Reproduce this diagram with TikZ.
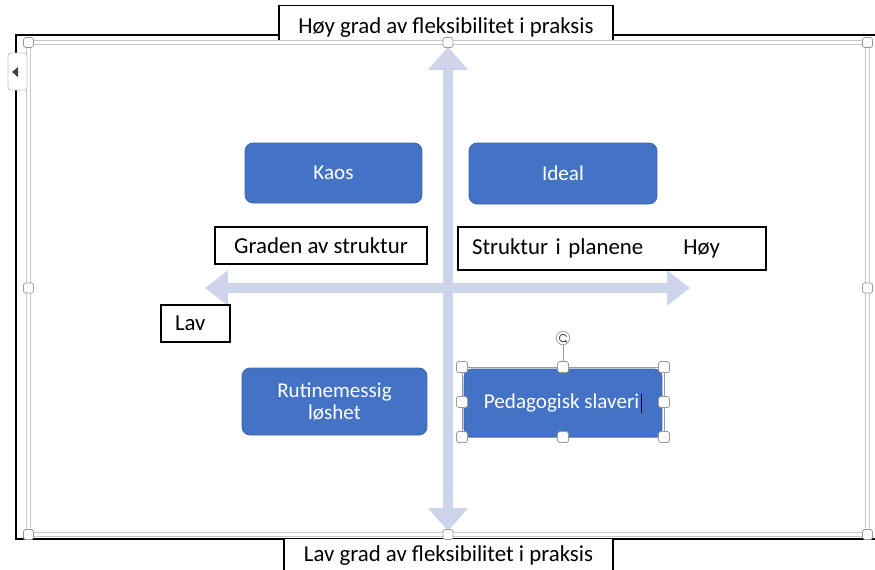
\documentclass[tikz,border=0pt]{standalone}
\usepackage{fontspec}
\setmainfont{Carlito}
\usetikzlibrary{arrows.meta}
\definecolor{my_blue}{HTML}{4472C4}
\definecolor{my_axis}{HTML}{CED4EA}
\definecolor{my_gray}{HTML}{9A9A9A}
\definecolor{my_lightgray}{HTML}{C8C8C8}

\begin{document}
\begin{tikzpicture}[
    x=0.02cm, y=-0.02cm,
    quadrant/.style={fill=my_blue, draw=my_blue!85!black, line width=0.4pt,
        rounded corners=4.5pt, text=white, align=center, inner sep=0pt,
        font=\fontsize{12}{13}\selectfont},
    labelbox/.style={draw=black, fill=white, line width=0.7pt, inner sep=0pt,
        font=\fontsize{13}{15.6}\selectfont},
    axis/.style={my_axis, line width=0.19cm},
    handle/.style={draw=my_gray, fill=white, line width=0.4pt, inner sep=0pt,
        minimum size=0.2cm, rounded corners=1pt}
]
\useasboundingbox (0,0) rectangle (875,569);
\clip (0,0) rectangle (875,569);

% ---- ytre ramme og overskrifter ----
\draw[black, line width=0.8pt] (875,35) -- (16,35) -- (16,539) -- (875,539);
\node[labelbox, minimum width=6.68cm, minimum height=0.7cm] (hoy) at (446,23)
    {\raisebox{-0.2cm}[0pt][0pt]{Høy grad av fleksibilitet i praksis}};
\node[labelbox, minimum width=6.58cm, minimum height=0.9cm, anchor=north] (lav) at (448.5,538)
    {\raisebox{0cm}[0pt][0pt]{Lav grad av fleksibilitet i praksis}};
\draw[my_lightgray, line width=0.6pt, double=white, double distance=0.06cm]
    (28.5,42.5) rectangle (867.5,534.5);

% ---- akser ----
\coordinate (ytop) at (448,47);
\coordinate (ybot) at (448,531);
\coordinate (xwest) at (205,288);
\coordinate (xeast) at (690,288);
\draw[axis, {Triangle[length=0.46cm, width=0.78cm]}-{Triangle[length=0.46cm, width=0.78cm]}]
    (ybot) -- (ytop);
\draw[axis, {Triangle[length=0.46cm, width=0.68cm]}-{Triangle[length=0.46cm, width=0.68cm]}]
    (xwest) -- (xeast);

% ---- kvadranter ----
\node[quadrant, minimum width=3.54cm, minimum height=1.2cm] (kaos) at (333.5,173) {Kaos};
\node[quadrant, minimum width=3.76cm, minimum height=1.22cm] (ideal) at (563,173.5) {Ideal};
\node[quadrant, minimum width=3.7cm, minimum height=1.34cm] (rutine) at (334.5,401.5)
    {Rutinemessig\\løshet};
\node[quadrant, minimum width=3.96cm, minimum height=1.36cm] (slaveri) at (563,403)
    {Pedagogisk slaveri\hspace{1pt}{\color{black}\rule[-0.08cm]{0.6pt}{0.38cm}}};

% ---- aksetekster ----
\node[labelbox, minimum width=4.24cm, minimum height=0.74cm] (graden) at (321,245.5)
    {Graden av struktur};
\node[labelbox, text width=5.6cm, inner xsep=0.28cm, align=left, minimum height=0.86cm]
    (planene) at (612,248.5) {Struktur i planene\hspace{0.8cm}Høy};
\node[labelbox, text width=0.82cm, inner xsep=0.28cm, align=left, minimum height=0.74cm]
    (lavx) at (195.5,323.5) {Lav};

% ---- markering (handtak) ----
\draw[my_gray, line width=0.3pt] (462,367) rectangle (664,437);
\node[handle] (fh1) at (28.5,42.5) {};
\node[handle] (fh2) at (448,42.5) {};
\node[handle] (fh3) at (867.5,42.5) {};
\node[handle] (fh4) at (867.5,288) {};
\node[handle] (fh5) at (867.5,534.5) {};
\node[handle] (fh6) at (448,534.5) {};
\node[handle] (fh7) at (28.5,534.5) {};
\node[handle] (fh8) at (28.5,288) {};
\node[handle, minimum size=0.22cm] (ph1) at (462,367) {};
\node[handle, minimum size=0.22cm] (ph2) at (563,367) {};
\node[handle, minimum size=0.22cm] (ph3) at (664,367) {};
\node[handle, minimum size=0.22cm] (ph4) at (664,402) {};
\node[handle, minimum size=0.22cm] (ph5) at (664,437) {};
\node[handle, minimum size=0.22cm] (ph6) at (563,437) {};
\node[handle, minimum size=0.22cm] (ph7) at (462,437) {};
\node[handle, minimum size=0.22cm] (ph8) at (462,402) {};
\node[circle, draw=my_gray, fill=white, line width=0.4pt, minimum size=0.27cm,
    inner sep=0pt] (rot) at (563,338) {};
\draw[my_gray, line width=0.4pt] (rot) -- (ph2);
\draw[black!70, line width=0.5pt, -{Stealth[length=1.4pt, width=2pt]}]
    (rot.center) ++(0.07cm,0.03cm) arc[start angle=25, end angle=330, radius=0.075cm];

% ---- fane til venstre ----
\draw[my_lightgray, fill=white, line width=0.5pt, rounded corners=1.5pt] (8,53) rectangle (27,90);
\fill[black!75] (12,72) -- (18,67) -- (18,77) -- cycle;

\end{tikzpicture}
\end{document}
